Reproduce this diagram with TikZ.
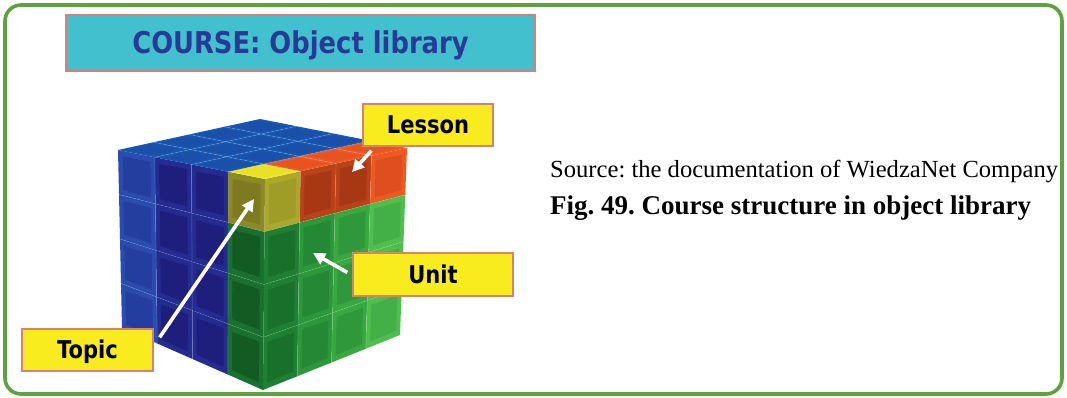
\documentclass[tikz,border=0pt]{standalone}
\usepackage{fontspec}
\setmainfont{Liberation Serif}
\newfontfamily\lblfont[FakeStretch=0.86]{DejaVu Sans}
\usetikzlibrary{arrows.meta,calc}
\definecolor{framegreen}{RGB}{94,162,60}
\definecolor{titlecyan}{RGB}{66,192,206}
\definecolor{titleblue}{RGB}{40,58,150}
\definecolor{boxedge}{RGB}{214,128,120}
\definecolor{lblyellow}{RGB}{248,236,30}
% top face
\definecolor{bluT}{RGB}{22,88,178}
\definecolor{bluTin}{RGB}{26,80,170}
\definecolor{ylwT}{RGB}{240,230,40}
\definecolor{ylwTin}{RGB}{234,224,36}
\definecolor{orgT}{RGB}{242,90,36}
\definecolor{orgTin}{RGB}{232,84,32}
% left face
\definecolor{bluLa}{RGB}{42,76,174}
\definecolor{bluLain}{RGB}{36,62,160}
\definecolor{bluLb}{RGB}{36,44,146}
\definecolor{bluLbin}{RGB}{30,30,124}
\definecolor{ylwL}{RGB}{140,138,38}
\definecolor{ylwLin}{RGB}{126,122,34}
\definecolor{grnL}{RGB}{26,112,46}
\definecolor{grnLin}{RGB}{18,92,36}
% right face
\definecolor{ylwR}{RGB}{172,168,44}
\definecolor{ylwRin}{RGB}{160,156,40}
\definecolor{orgRa}{RGB}{186,66,24}
\definecolor{orgRain}{RGB}{168,56,20}
\definecolor{orgRb}{RGB}{238,88,34}
\definecolor{orgRbin}{RGB}{222,78,30}
\definecolor{grnR0}{RGB}{30,128,50}
\definecolor{grnR0in}{RGB}{24,112,42}
\definecolor{grnR1}{RGB}{44,152,58}
\definecolor{grnR1in}{RGB}{36,136,52}
\definecolor{grnR2}{RGB}{56,168,64}
\definecolor{grnR2in}{RGB}{46,152,58}
\definecolor{grnR3}{RGB}{78,190,78}
\definecolor{grnR3in}{RGB}{66,176,70}
\begin{document}
\frenchspacing
\begin{tikzpicture}[x=1pt,y=-1pt,
  boxbase/.style={draw=boxedge, line width=1.3pt, inner sep=0pt, text depth=0pt},
  lbl/.style={boxbase, fill=lblyellow, text=black,
    font=\lblfont\bfseries\fontsize{24.5}{28}\selectfont, text height=17.9pt},
  ptr/.style={draw=white, line width=3.6pt, -{Triangle[length=12pt,width=12pt]}},
  gridline/.style={draw=white, draw opacity=0.16, line width=0.7pt}]
\useasboundingbox (0,0) rectangle (1067,398);
\fill[white] (0,0) rectangle (1067,398);
\draw[framegreen, line width=3.6pt, rounded corners=16pt] (5,5) rectangle (1062,394);

% ---- cube grid coordinates ----
\foreach \a in {0,...,4}{\foreach \b in {0,...,4}{
  \pgfmathsetmacro\u{\a/4}\pgfmathsetmacro\v{\b/4}
  \coordinate (L-\a-\b) at ({(1-\u)*(1-\v)*265+\u*(1-\v)*118+(1-\u)*\v*263+\u*\v*122},
                            {(1-\u)*(1-\v)*179+\u*(1-\v)*150+(1-\u)*\v*390+\u*\v*328});
  \coordinate (R-\a-\b) at ({(1-\u)*(1-\v)*265+\u*(1-\v)*407+(1-\u)*\v*263+\u*\v*400},
                            {(1-\u)*(1-\v)*179+\u*(1-\v)*148+(1-\u)*\v*390+\u*\v*335});
  \coordinate (T-\a-\b) at ({(1-\u)*(1-\v)*265+\u*(1-\v)*118+(1-\u)*\v*407+\u*\v*260},
                            {(1-\u)*(1-\v)*179+\u*(1-\v)*150+(1-\u)*\v*148+\u*\v*119});
}}

% ---- left face ----
\foreach \a in {0,...,3}{\foreach \b in {0,...,3}{
  \pgfmathtruncatemacro\na{\a+1}\pgfmathtruncatemacro\nb{\b+1}
  \ifcase\a
    \ifnum\b=0 \def\cA{ylwL}\def\cB{ylwLin}\else\def\cA{grnL}\def\cB{grnLin}\fi
  \or \def\cA{bluLb}\def\cB{bluLbin}
  \or \def\cA{bluLb}\def\cB{bluLbin}
  \else \def\cA{bluLa}\def\cB{bluLain}\fi
  \fill[\cA] (L-\a-\b) -- (L-\na-\b) -- (L-\na-\nb) -- (L-\a-\nb) -- cycle;
  \fill[\cB] ($(L-\a-\b)!0.12!(L-\na-\nb)$) -- ($(L-\na-\b)!0.12!(L-\a-\nb)$)
     -- ($(L-\na-\nb)!0.12!(L-\a-\b)$) -- ($(L-\a-\nb)!0.12!(L-\na-\b)$) -- cycle;
}}
% ---- right face ----
\foreach \a in {0,...,3}{\foreach \b in {0,...,3}{
  \pgfmathtruncatemacro\na{\a+1}\pgfmathtruncatemacro\nb{\b+1}
  \ifnum\b=0
    \ifcase\a \def\cA{ylwR}\def\cB{ylwRin}
    \or \def\cA{orgRa}\def\cB{orgRain}
    \or \def\cA{orgRa}\def\cB{orgRain}
    \else \def\cA{orgRb}\def\cB{orgRbin}\fi
  \else
    \def\cA{grnR\a}\def\cB{grnR\a in}
  \fi
  \fill[\cA] (R-\a-\b) -- (R-\na-\b) -- (R-\na-\nb) -- (R-\a-\nb) -- cycle;
  \fill[\cB] ($(R-\a-\b)!0.12!(R-\na-\nb)$) -- ($(R-\na-\b)!0.12!(R-\a-\nb)$)
     -- ($(R-\na-\nb)!0.12!(R-\a-\b)$) -- ($(R-\a-\nb)!0.12!(R-\na-\b)$) -- cycle;
}}
% ---- top face ----
\foreach \a in {0,...,3}{\foreach \b in {0,...,3}{
  \pgfmathtruncatemacro\na{\a+1}\pgfmathtruncatemacro\nb{\b+1}
  \ifnum\a=0 \ifnum\b=0 \def\cA{ylwT}\def\cB{ylwTin}\else\def\cA{orgT}\def\cB{orgTin}\fi
  \else\def\cA{bluT}\def\cB{bluTin}\fi
  \fill[\cA] (T-\a-\b) -- (T-\na-\b) -- (T-\na-\nb) -- (T-\a-\nb) -- cycle;
  \fill[\cB] ($(T-\a-\b)!0.12!(T-\na-\nb)$) -- ($(T-\na-\b)!0.12!(T-\a-\nb)$)
     -- ($(T-\na-\nb)!0.12!(T-\a-\b)$) -- ($(T-\a-\nb)!0.12!(T-\na-\b)$) -- cycle;
}}
% ---- grid lines ----
\foreach \k in {1,...,3}{
  \draw[gridline] (L-0-\k) -- (L-4-\k) (L-\k-0) -- (L-\k-4);
  \draw[gridline] (R-0-\k) -- (R-4-\k) (R-\k-0) -- (R-\k-4);
  \draw[gridline] (T-0-\k) -- (T-4-\k) (T-\k-0) -- (T-\k-4);
}

% ---- title ----
\node[boxbase, fill=titlecyan, minimum width=469pt, minimum height=56pt,
  text=titleblue, text height=21.9pt,
  font=\lblfont\bfseries\fontsize{30}{34}\selectfont] (title) at (300.5,43) {COURSE: Object library};

% ---- labels ----
\node[lbl, minimum width=130pt, minimum height=42pt] (lesson) at (428,125) {Lesson};
\node[lbl, minimum width=160pt, minimum height=43pt] (unit) at (433,274.5) {Unit};
\node[lbl, minimum width=131pt, minimum height=42pt] (topic) at (87.5,350) {Topic};

% ---- arrows ----
\coordinate (lessonTip) at (352,172);
\coordinate (unitTip) at (313,253);
\coordinate (topicTip) at (254,199);
\draw[ptr] ($(lesson.south west)+(9,4)$) -- (lessonTip);
\draw[ptr] ($(unit.west)+(-5,-2)$) -- (unitTip);
\draw[ptr] ($(topic.north east)+(6,9)$) -- (topicTip);

% ---- caption ----
\node[anchor=base west, inner sep=0pt, font=\fontsize{24.6}{29}\selectfont] (src) at (550,178)
  {Source: the documentation of WiedzaNet Company};
\node[anchor=base west, inner sep=0pt, font=\bfseries\fontsize{27}{31}\selectfont] (fig) at (550,214)
  {Fig. 49. Course structure in object library};
\end{tikzpicture}
\end{document}
